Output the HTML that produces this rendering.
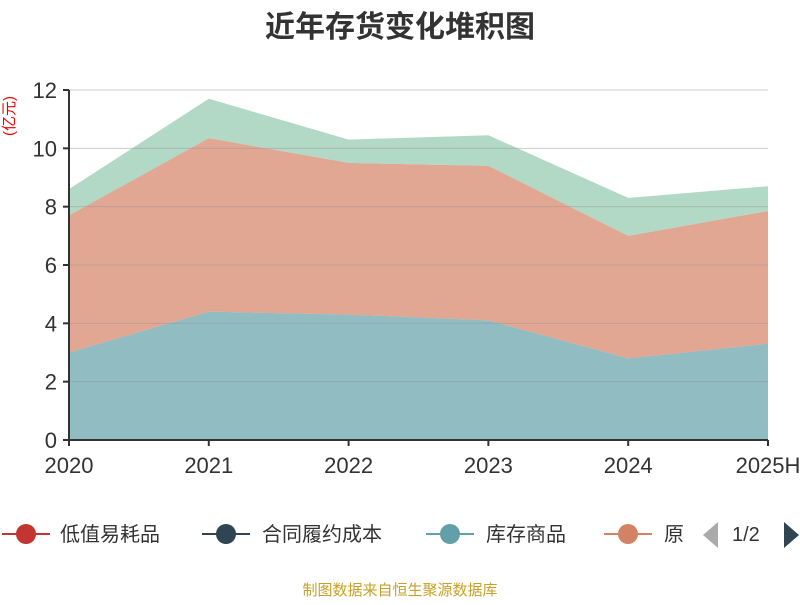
<!DOCTYPE html>
<html><head><meta charset="utf-8"><style>
body{margin:0;background:#fff;font-family:"Liberation Sans","Noto Sans CJK SC",sans-serif;}
</style></head><body>
<svg width="800" height="600" id="c" xmlns="http://www.w3.org/2000/svg">
<text x="400" y="37" text-anchor="middle" font-size="30" font-weight="bold" fill="#333" font-family="Liberation Sans, Noto Sans CJK SC, sans-serif">近年存货变化堆积图</text>
<text transform="translate(14,116) rotate(-90)" text-anchor="middle" font-size="15" fill="#e00" font-family="Liberation Sans, Noto Sans CJK SC, sans-serif">(亿元)</text>
<g id="areas"></g><g id="grid"></g><g id="axes"></g>
<g font-size="20" fill="#333" font-family="Liberation Sans, Noto Sans CJK SC, sans-serif">
<g><line x1="2" y1="534" x2="50" y2="534" stroke="#c23531" stroke-width="2"/><circle cx="26" cy="534" r="10" fill="#c23531"/><text x="60" y="541">低值易耗品</text></g>
<g><line x1="202" y1="534" x2="250" y2="534" stroke="#2f4554" stroke-width="2"/><circle cx="226" cy="534" r="10" fill="#2f4554"/><text x="262" y="541">合同履约成本</text></g>
<g><line x1="426" y1="534" x2="474" y2="534" stroke="#61a0a8" stroke-width="2"/><circle cx="450" cy="534" r="10" fill="#61a0a8"/><text x="486" y="541">库存商品</text></g>
<g><line x1="604" y1="534" x2="652" y2="534" stroke="#d48265" stroke-width="2"/><circle cx="628" cy="534" r="10" fill="#d48265"/><text x="664" y="541">原</text></g>
<rect x="684" y="515" width="16" height="40" fill="#fff"/>
<polygon points="718,522 718,548 703,535" fill="#aaa"/>
<text x="732" y="541">1/2</text>
<polygon points="784,522 784,548 799,535" fill="#2f4554"/>
</g>
<text x="400" y="595" text-anchor="middle" font-size="15" fill="#c8a028" font-family="Liberation Sans, Noto Sans CJK SC, sans-serif">制图数据来自恒生聚源数据库</text>
</svg>
<script>
const categories=["2020","2021","2022","2023","2024","2025H"];
const lowValue=[0,0,0,0,0,0];
const contractCost=[0,0,0,0,0,0];
const inventoryGoods=[3.0,4.4,4.3,4.1,2.8,3.3];
const rawMaterial=[4.7,5.95,5.2,5.3,4.2,4.55];
const otherSeries=[0.9,1.35,0.8,1.05,1.3,0.85];
const yTicks=[0,2,4,6,8,10,12];
const NS="http://www.w3.org/2000/svg";
const x0=69,x1=768,y0=440,y1=90,yMax=12;
const xs=i=>x0+i*(x1-x0)/(categories.length-1);
const ys=v=>y0-v*(y0-y1)/yMax;
function mk(t,a,p){const e=document.createElementNS(NS,t);for(const k in a)e.setAttribute(k,a[k]);p.appendChild(e);return e;}
const areas=document.getElementById('areas'),grid=document.getElementById('grid'),axes=document.getElementById('axes');
const series=[[lowValue,"#c23531","area-low-value"],[contractCost,"#2f4554","area-contract-cost"],[inventoryGoods,"#61a0a8","area-inventory-goods"],[rawMaterial,"#d48265","area-raw-material"],[otherSeries,"#91c7ae","area-other"]];
let base=categories.map(()=>0);
series.forEach(([vals,col,name])=>{
  const top=base.map((b,i)=>b+vals[i]);
  let pts=top.map((v,i)=>xs(i)+","+ys(v));
  for(let i=base.length-1;i>=0;i--)pts.push(xs(i)+","+ys(base[i]));
  const p=mk('polygon',{points:pts.join(' '),fill:col,'fill-opacity':0.7},areas);
  
  
  base=top;
});
yTicks.forEach(t=>{
  if(t>0){const l=mk('line',{x1:x0,x2:x1,y1:ys(t),y2:ys(t),stroke:'#999','stroke-opacity':0.5,'stroke-width':1},grid);
  
  }
  const tk=mk('line',{x1:x0-6,x2:x0,y1:ys(t),y2:ys(t),stroke:'#333','stroke-width':2},axes);
  
  
  const tx=mk('text',{x:x0-12,y:ys(t)+8,'text-anchor':'end','font-size':22,fill:'#333','font-family':'Liberation Sans, sans-serif'},axes);
  tx.textContent=t;
  
  
});
const ya=mk('line',{x1:x0,x2:x0,y1:y1,y2:y0,stroke:'#333','stroke-width':2},axes);


const xa=mk('line',{x1:x0,x2:x1,y1:y0,y2:y0,stroke:'#333','stroke-width':2},axes);


categories.forEach((c,i)=>{
  const tk=mk('line',{x1:xs(i),x2:xs(i),y1:y0,y2:y0+6,stroke:'#333','stroke-width':2},axes);
  
  
  const tx=mk('text',{x:xs(i),y:y0+33,'text-anchor':'middle','font-size':22,fill:'#333','font-family':'Liberation Sans, sans-serif'},axes);
  tx.textContent=c;
  
  
});
</script>
</body></html>
